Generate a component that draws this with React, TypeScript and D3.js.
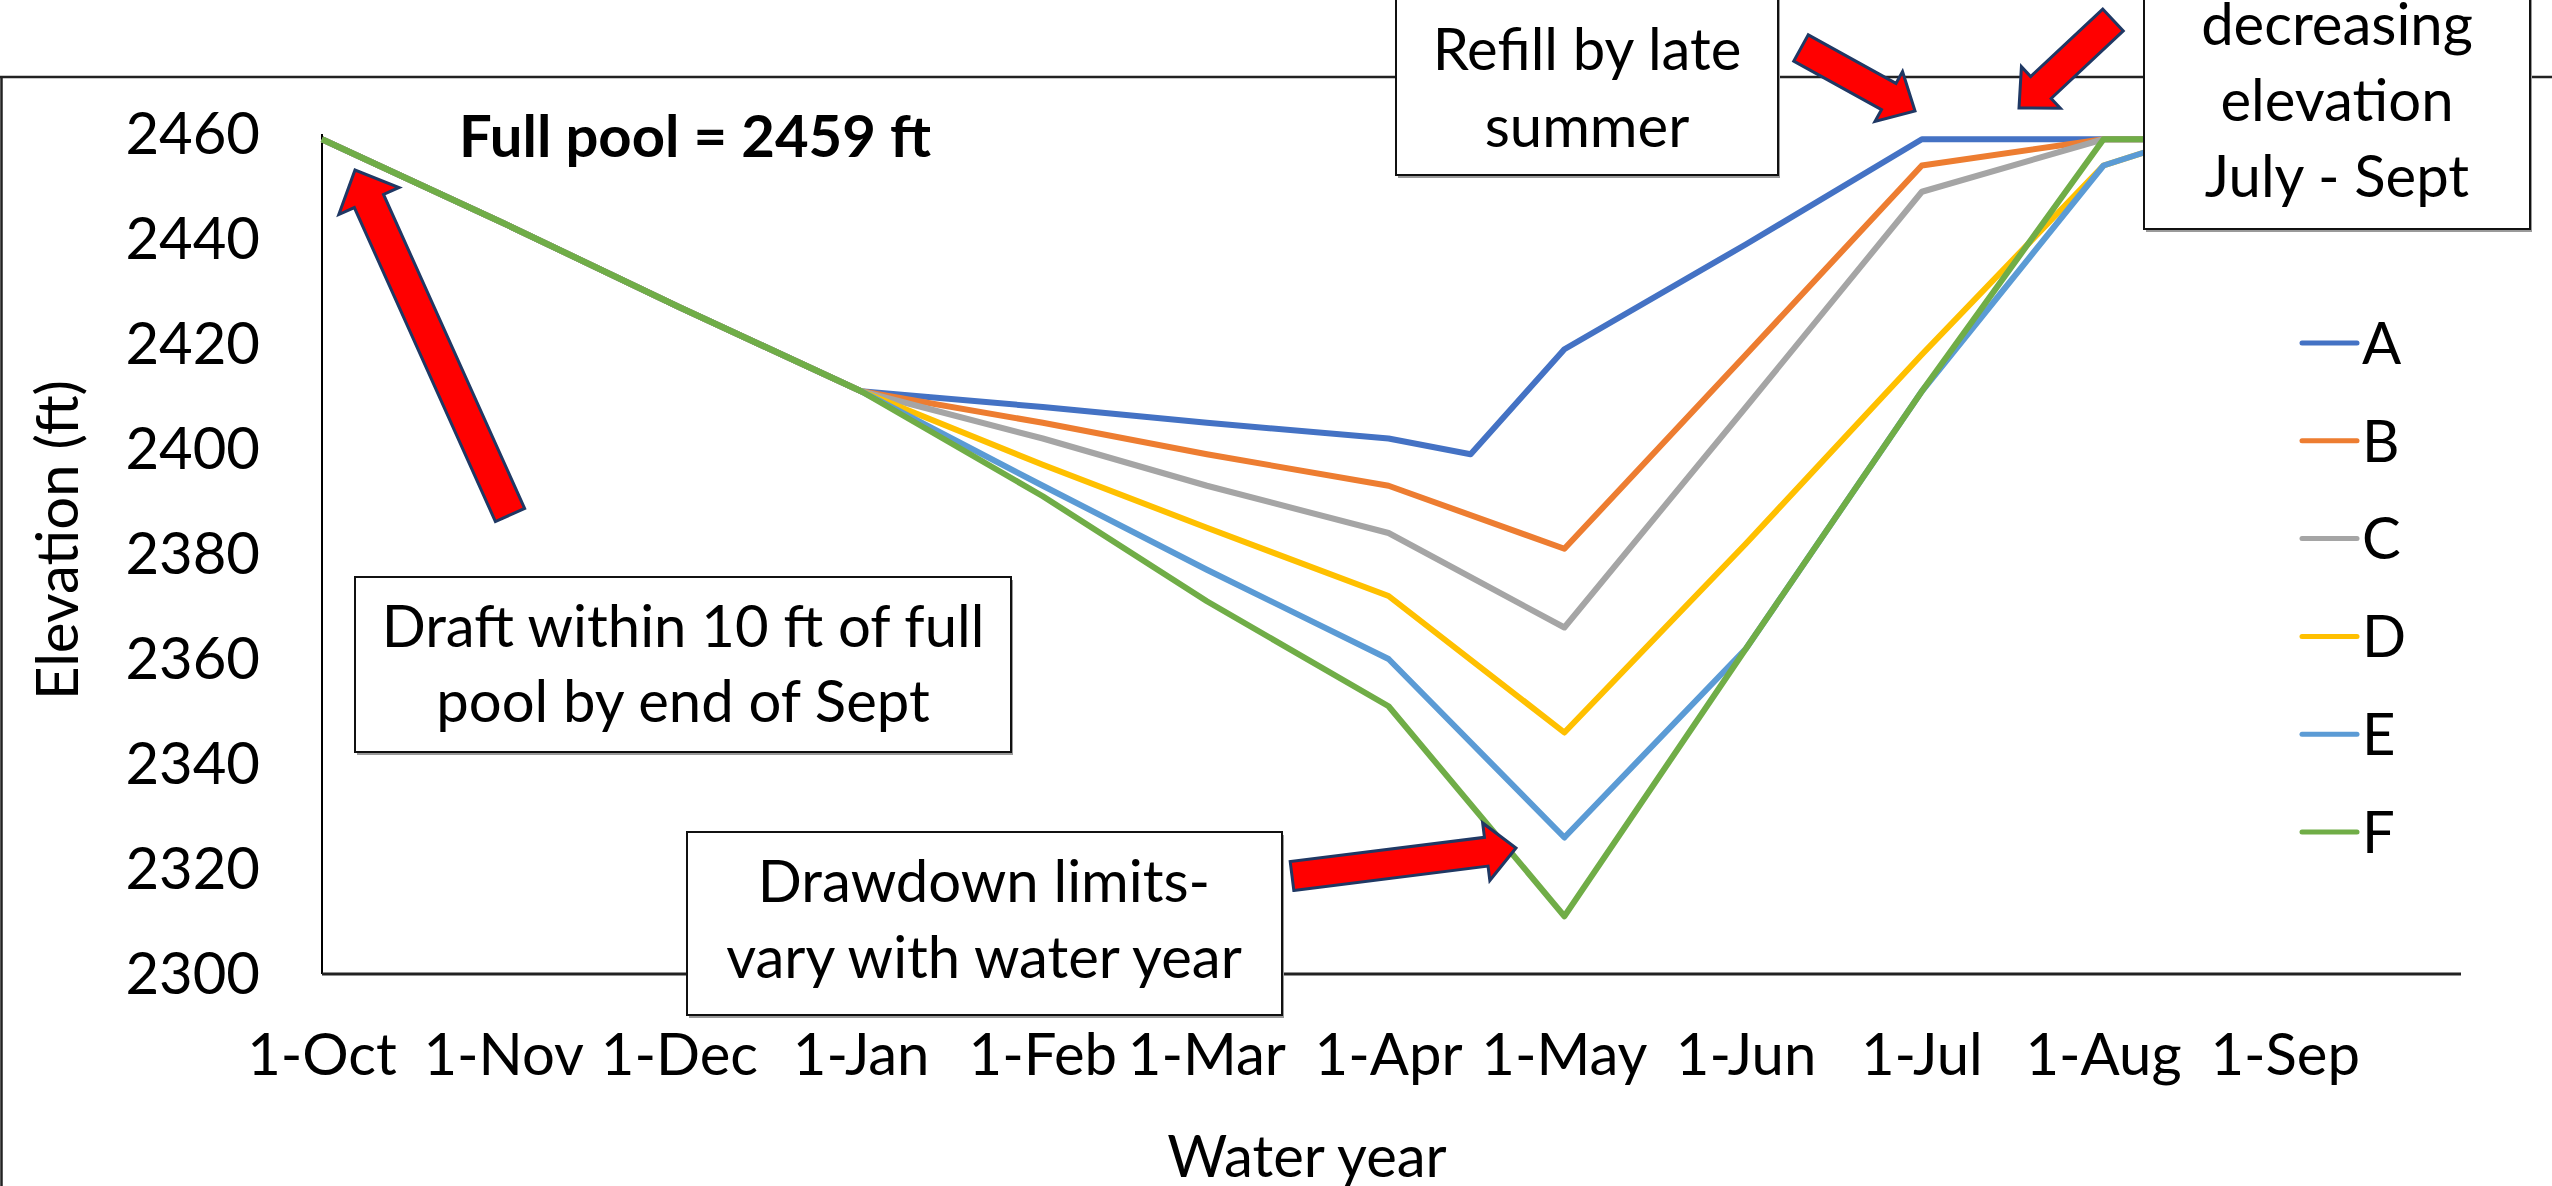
import React from "react";
import * as d3 from "d3";

const W = 2552;
const H = 1186;

// Dates of the data points (water year Oct 2018 - Sep 2019)
const pointDates = [
  "2018-10-01", "2018-11-01", "2018-12-01", "2019-01-01", "2019-02-01", "2019-03-01",
  "2019-04-01", "2019-04-15", "2019-05-01", "2019-06-01", "2019-07-01", "2019-08-01",
  "2019-08-15", "2019-09-01",
];

const seriesNames = ["A", "B", "C", "D", "E", "F"];
const seriesColors = ["#4472C4", "#ED7D31", "#A5A5A5", "#FFC000", "#5B9BD5", "#70AD47"];

const valuesA = [2459, 2443, 2427, 2411, 2408, 2405, 2402, 2399, 2419, 2439, 2459, 2459, null, 2459];
const valuesB = [2459, 2443, 2427, 2411, 2405, 2399, 2393, null, 2381, 2418, 2454, 2459, null, 2459];
const valuesC = [2459, 2443, 2427, 2411, 2402, 2393, 2384, null, 2366, 2408, 2449, 2459, null, 2459];
const valuesD = [2459, 2443, 2427, 2411, 2397, 2385, 2372, null, 2346, 2382, 2418, 2454, 2459, 2459];
const valuesE = [2459, 2443, 2427, 2411, 2393, 2377, 2360, null, 2326, 2362, 2411, 2454, 2459, 2459];
const valuesF = [2459, 2443, 2427, 2411, 2391, 2371, 2351, null, 2311, 2362, 2411, 2459, null, 2459];

const tickDates = [
  "2018-10-01", "2018-11-01", "2018-12-01", "2019-01-01", "2019-02-01", "2019-03-01",
  "2019-04-01", "2019-05-01", "2019-06-01", "2019-07-01", "2019-08-01", "2019-09-01",
];
const tickLabels = ["1-Oct", "1-Nov", "1-Dec", "1-Jan", "1-Feb", "1-Mar", "1-Apr", "1-May", "1-Jun", "1-Jul", "1-Aug", "1-Sep"];
const yTicks = [2300, 2320, 2340, 2360, 2380, 2400, 2420, 2440, 2460];

const FONT = "Lato, 'Open Sans', 'DejaVu Sans', sans-serif";
const FS = 58;

type Arrow = { tail: [number, number]; tip: [number, number]; w: number; hw: number; hl: number };
const arrows: Arrow[] = [
  { tail: [510, 515], tip: [355, 170], w: 32, hw: 66, hl: 34 },
  { tail: [1292, 876], tip: [1516, 848], w: 29, hw: 58, hl: 30 },
  { tail: [1801, 48], tip: [1915, 111], w: 30, hw: 57, hl: 30 },
  { tail: [2113, 20], tip: [2019, 108], w: 30, hw: 57, hl: 30 },
];

type Box = { x: number; y: number; w: number; h: number; cx: number; lines: string[]; baselines: number[] };
const boxes: Box[] = [
  { x: 1396, y: -40, w: 382, h: 215, cx: 1587, lines: ["Refill by late", "summer"], baselines: [70, 147] },
  { x: 2144, y: -40, w: 386, h: 269, cx: 2337, lines: ["decreasing", "elevation", "July - Sept"], baselines: [45, 121, 197] },
  { x: 355, y: 577, w: 656, h: 175, cx: 683, lines: ["Draft within 10 ft of full", "pool by end of Sept"], baselines: [647, 722] },
  { x: 687, y: 832, w: 595, h: 183, cx: 984, lines: ["Drawdown limits-", "vary with water year"], baselines: [902, 978] },
];

function arrowPath(a: Arrow): string {
  const [tx, ty] = a.tail;
  const [px, py] = a.tip;
  const len = Math.hypot(px - tx, py - ty);
  const ux = (px - tx) / len, uy = (py - ty) / len;
  const nx = -uy, ny = ux;
  const hx = px - ux * a.hl, hy = py - uy * a.hl;
  const pts: [number, number][] = [
    [tx + nx * a.w / 2, ty + ny * a.w / 2],
    [hx + nx * a.w / 2, hy + ny * a.w / 2],
    [hx + nx * a.hw / 2, hy + ny * a.hw / 2],
    [px, py],
    [hx - nx * a.hw / 2, hy - ny * a.hw / 2],
    [hx - nx * a.w / 2, hy - ny * a.w / 2],
    [tx - nx * a.w / 2, ty - ny * a.w / 2],
  ];
  return "M" + pts.map((p) => p.join(",")).join("L") + "Z";
}

export default function App() {
  const parse = d3.utcParse("%Y-%m-%d");
  const x = d3.scaleUtc().domain([parse("2018-10-01")!, parse("2019-10-01")!]).range([322, 2461]);
  const y = d3.scaleLinear().domain([2300, 2460]).range([974, 134]);

  const allValues = [valuesA, valuesB, valuesC, valuesD, valuesE, valuesF];
  const line = d3
    .line<[Date, number]>()
    .x((d) => x(d[0]))
    .y((d) => y(d[1]));

  const seriesPaths = allValues.map((vals) => {
    const pts: [Date, number][] = [];
    vals.forEach((v, i) => {
      if (v !== null) pts.push([parse(pointDates[i])!, v as number]);
    });
    return line(pts) || "";
  });

  const legendX0 = 2302, legendX1 = 2357, legendY0 = 343, legendStep = 97.8;

  return (
    <svg
      width={W}
      height={H}
      viewBox={`0 0 ${W} ${H}`}
      style={{ position: "absolute", left: 0, top: 0, background: "#fff" }}
      fontFamily={FONT}
    >
      <rect x={0} y={0} width={W} height={H} fill="#fff" />
      {/* chart frame */}
      <line x1={0} y1={77} x2={W} y2={77} stroke="#222" strokeWidth={2.5} />
      <line x1={1.5} y1={77} x2={1.5} y2={H} stroke="#222" strokeWidth={2.5} />

      {/* axes */}
      <line x1={322} y1={y(2460)} x2={322} y2={y(2300)} stroke="#000" strokeWidth={2} />
      <line x1={322} y1={y(2300)} x2={2461} y2={y(2300)} stroke="#222" strokeWidth={3} />

      {yTicks.map((t) => (
        <text key={t} x={260} y={y(t)} dy="0.35em" textAnchor="end" fontSize={FS} fill="#000">
          {t}
        </text>
      ))}
      {tickDates.map((d, i) => (
        <text key={d} x={x(parse(d)!)} y={1075} textAnchor="middle" fontSize={FS} fill="#000">
          {tickLabels[i]}
        </text>
      ))}

      <text x={1307} y={1177} textAnchor="middle" fontSize={FS} fill="#000">
        Water year
      </text>
      <text transform="translate(78,540) rotate(-90)" textAnchor="middle" fontSize={FS} fill="#000">
        Elevation (ft)
      </text>

      {/* series */}
      {seriesPaths.map((p, i) => (
        <path key={seriesNames[i]} d={p} fill="none" stroke={seriesColors[i]} strokeWidth={6} strokeLinejoin="round" />
      ))}

      {/* legend */}
      {seriesNames.map((n, i) => (
        <g key={n}>
          <line
            x1={legendX0}
            x2={legendX1}
            y1={legendY0 + i * legendStep}
            y2={legendY0 + i * legendStep}
            stroke={seriesColors[i]}
            strokeWidth={5}
            strokeLinecap="round"
          />
          <text x={legendX1 + 5} y={legendY0 + i * legendStep} dy="0.36em" fontSize={FS} fill="#000">
            {n}
          </text>
        </g>
      ))}

      <text x={459} y={157} fontSize={FS} fontWeight="bold" fill="#000">
        Full pool = 2459 ft
      </text>

      {/* annotation boxes */}
      {boxes.map((b, i) => (
        <g key={i}>
          <rect x={b.x + 2} y={b.y + 3} width={b.w} height={b.h} fill="#9a9a9a" />
          <rect x={b.x} y={b.y} width={b.w} height={b.h} fill="#fff" stroke="#111" strokeWidth={2} />
          {b.lines.map((l, j) => (
            <text key={j} x={b.cx} y={b.baselines[j]} textAnchor="middle" fontSize={FS} fill="#000">
              {l}
            </text>
          ))}
        </g>
      ))}

      {/* arrows */}
      {arrows.map((a, i) => (
        <path key={i} d={arrowPath(a)} fill="#FF0000" stroke="#1F3864" strokeWidth={3} strokeLinejoin="miter" />
      ))}
    </svg>
  );
}
